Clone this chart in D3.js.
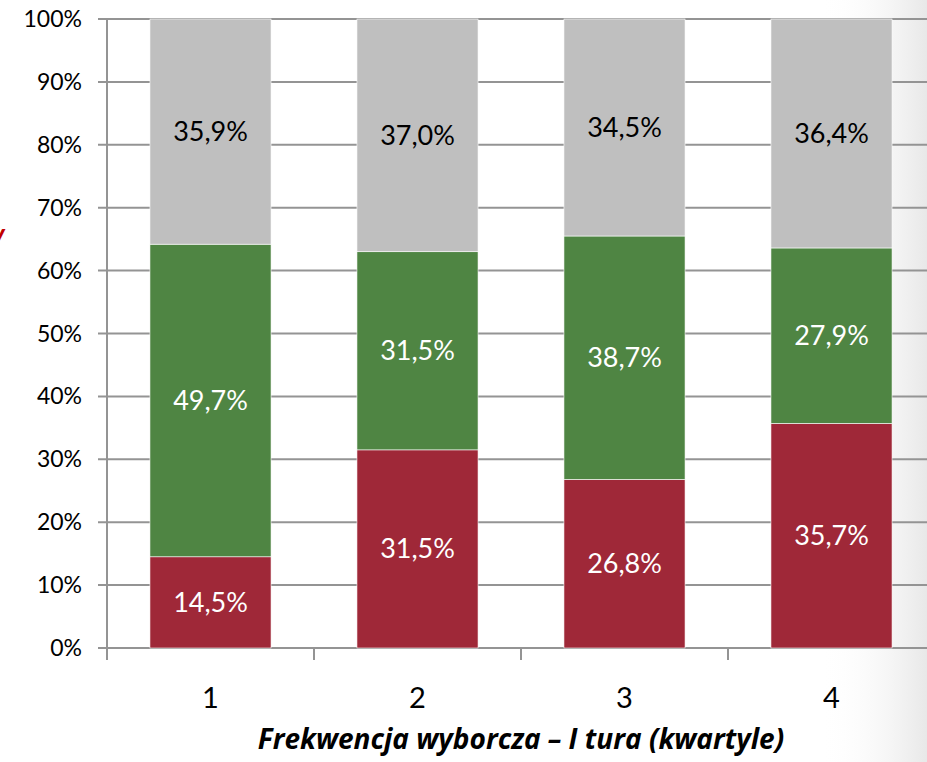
<!DOCTYPE html>
<html>
<head>
<meta charset="utf-8">
<script src="https://cdn.jsdelivr.net/npm/d3@7"></script>
<style>
  body { margin: 0; background: #fff; }
  svg { display: block; }
  text { font-family: Lato, "Open Sans", sans-serif; }
</style>
</head>
<body>
<div id="chart"></div>
<script>
// data
const categories = ["1", "2", "3", "4"];
const seriesNames = ["czerwony", "zielony", "szary"];
const redValues = [14.5, 31.5, 26.8, 35.7];
const greenValues = [49.7, 31.5, 38.7, 27.9];
const greyValues = [35.9, 37.0, 34.5, 36.4];
const yTicks = [0, 10, 20, 30, 40, 50, 60, 70, 80, 90, 100];
const axisTitle = "Frekwencja wyborcza – I tura (kwartyle)";

const colors = ["#9f2838", "#4f8543", "#bfbfbf"];
const labelColors = ["#fff", "#fff", "#000"];

let width = 927, height = 762;
let margin = {top: 19, left: 107, bottom: 114};

let svg = d3.select("#chart").append("svg")
    .attr("width", width)
    .attr("height", height);

// soft grey shading on the right side of the slide
let defs = svg.append("defs");
let grad = defs.append("linearGradient").attr("id", "shade")
    .attr("x1", "0").attr("x2", "1").attr("y1", "0").attr("y2", "0");
grad.append("stop").attr("offset", "0").attr("stop-color", "#fff").attr("stop-opacity", 0);
grad.append("stop").attr("offset", "1").attr("stop-color", "#e8e8e8").attr("stop-opacity", 1);
svg.append("rect")
    .attr("x", 820).attr("y", 0)
    .attr("width", width - 820).attr("height", height)
    .attr("fill", "url(#shade)");

let x = d3.scaleBand()
    .domain(categories)
    .range([margin.left, margin.left + 4 * 207])
    .paddingInner(0.415)
    .paddingOuter(0.2075);

let y = d3.scaleLinear()
    .domain([0, 100])
    .range([height - margin.bottom, margin.top]);

// gridlines
svg.append("g")
    .selectAll("line")
    .data(yTicks)
    .join("line")
    .attr("x1", margin.left - 9)
    .attr("x2", width)
    .attr("y1", d => y(d))
    .attr("y2", d => y(d))
    .attr("stroke", "#949494")
    .attr("stroke-width", 2);

// tick labels
svg.append("g")
    .selectAll("text")
    .data(yTicks)
    .join("text")
    .attr("x", 82)
    .attr("y", d => y(d))
    .attr("dy", "0.35em")
    .attr("text-anchor", "end")
    .attr("font-size", 23)
    .attr("fill", "#000")
    .text(d => d + "%");

// stack the three series
let rows = categories.map((c, i) => ({cat: c, s0: redValues[i], s1: greenValues[i], s2: greyValues[i]}));
let stacked = d3.stack().keys(["s0", "s1", "s2"])(rows);

let layers = svg.append("g")
    .selectAll("g")
    .data(stacked)
    .join("g")
    .attr("fill", (d, i) => colors[i]);

layers.selectAll("rect")
    .data(d => d)
    .join("rect")
    .attr("x", d => x(d.data.cat))
    .attr("width", x.bandwidth())
    .attr("y", d => y(Math.min(d[1], 100)))
    .attr("height", d => y(d[0]) - y(Math.min(d[1], 100)))
    .attr("stroke", "#fff")
    .attr("stroke-width", 0.6);

// data labels, centred in each segment
stacked.forEach((layer, i) => {
    svg.append("g")
        .selectAll("text")
        .data(layer)
        .join("text")
        .attr("x", d => x(d.data.cat) + x.bandwidth() / 2)
        .attr("y", d => y((d[0] + Math.min(d[1], 100)) / 2))
        .attr("dy", "0.35em")
        .attr("text-anchor", "middle")
        .attr("font-size", 27)
        .attr("fill", labelColors[i])
        .text(d => (d[1] - d[0]).toFixed(1).replace(".", ",") + "%");
});

// y axis line
svg.append("line")
    .attr("x1", margin.left).attr("x2", margin.left)
    .attr("y1", y(100)).attr("y2", y(0) + 12)
    .attr("stroke", "#949494")
    .attr("stroke-width", 2);

// x axis ticks between categories
let step = x.step();
svg.append("g")
    .selectAll("line")
    .data(categories.slice(1))
    .join("line")
    .attr("x1", d => x(d) - step * 0.415 / 2)
    .attr("x2", d => x(d) - step * 0.415 / 2)
    .attr("y1", y(0))
    .attr("y2", y(0) + 12)
    .attr("stroke", "#949494")
    .attr("stroke-width", 2);

// category labels
svg.append("g")
    .selectAll("text")
    .data(categories)
    .join("text")
    .attr("x", d => x(d) + x.bandwidth() / 2)
    .attr("y", 708)
    .attr("text-anchor", "middle")
    .attr("font-size", 29)
    .attr("fill", "#000")
    .text(d => d);

// axis title
svg.append("text")
    .attr("x", 521)
    .attr("y", 749)
    .attr("text-anchor", "middle")
    .attr("font-size", 28)
    .attr("font-weight", "bold")
    .attr("font-style", "italic")
    .attr("fill", "#000")
    .style("font-family", "'Open Sans', sans-serif")
    .text(axisTitle);

// cut-off red text at the left edge of the slide
svg.append("text")
    .attr("x", -9)
    .attr("y", 244)
    .attr("font-size", 28)
    .attr("font-weight", "bold")
    .attr("font-style", "italic")
    .attr("fill", "#c00000")
    .text("y");
</script>
</body>
</html>
